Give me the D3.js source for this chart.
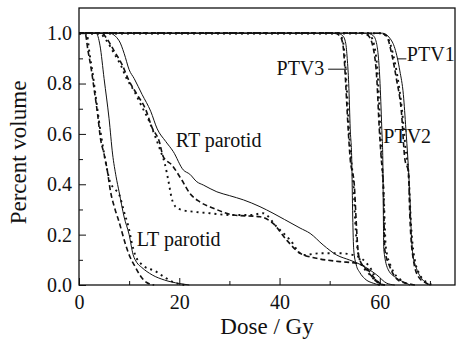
<!DOCTYPE html>
<html>
<head>
<meta charset="utf-8">
<script src="https://cdn.jsdelivr.net/npm/d3@7"></script>
<style>
  body { margin: 0; background: #fff; }
  svg text { font-family: "Liberation Serif", "Times New Roman", serif; fill: #111; }
</style>
</head>
<body>
<div id="chart"></div>
<script>
// dose (Gy), volume fraction
const ltSolid = [[0,1],[3.4,1],[4.2,0.95],[5,0.82],[6,0.66],[6.7,0.52],[7.4,0.43],[8,0.37],[9,0.27],[10,0.2],[10.8,0.12],[11.5,0.09],[12.5,0.07],[14.6,0.04],[17,0.02],[20,0.006],[22,0]];
const ltDashed = [[0,1],[1.2,1],[1.8,0.93],[2.5,0.85],[3,0.78],[3.7,0.68],[4.3,0.58],[5,0.52],[5.6,0.46],[6.3,0.37],[7.2,0.3],[8,0.25],[9.3,0.16],[10.2,0.11],[11,0.08],[12.3,0.035],[13.5,0.01],[15,0]];
const ltDotted = [[0,1],[1.5,1],[2.1,0.92],[2.8,0.83],[3.4,0.74],[4,0.65],[4.6,0.57],[5.2,0.5],[6.2,0.41],[7.2,0.38],[8,0.36],[9,0.29],[10,0.22],[10.5,0.17],[11.2,0.12],[12.6,0.08],[15.3,0.054],[17.3,0.028],[19,0.01],[21,0]];

const rtSolid = [[0,1],[6,1],[8,0.97],[9,0.92],[10,0.855],[11,0.82],[12.6,0.756],[14.3,0.69],[15.6,0.62],[17.3,0.57],[18.8,0.53],[20.8,0.457],[22.1,0.44],[23.5,0.41],[24.8,0.397],[27.5,0.37],[30,0.355],[32.8,0.338],[36.1,0.311],[38.7,0.285],[41,0.26],[44.1,0.226],[46.1,0.205],[48.7,0.159],[51.4,0.119],[54,0.099],[56.4,0.079],[59.4,0.04],[61.4,0.007],[63,0]];
const rtDashed = [[0,1],[4.5,1],[5.5,0.98],[7,0.93],[8.6,0.875],[10,0.81],[11.6,0.756],[13.3,0.697],[14.6,0.624],[16,0.571],[16.8,0.51],[18.5,0.477],[20.5,0.417],[22.1,0.364],[24.1,0.33],[26.8,0.305],[30.8,0.278],[36.1,0.271],[38.7,0.245],[41.4,0.179],[44.1,0.126],[47.4,0.106],[52,0.093],[55.4,0.086],[57.4,0.066],[58.7,0.033],[60,0.007],[61,0]];
const rtDotted = [[0,1],[4,1],[5.5,0.97],[7,0.92],[8.4,0.87],[9.5,0.82],[11,0.77],[12.5,0.71],[14,0.65],[15.2,0.59],[16.2,0.536],[17.1,0.483],[17.8,0.417],[18.5,0.344],[19.3,0.31],[20.5,0.298],[22.8,0.291],[26.1,0.285],[30.1,0.278],[34.1,0.278],[36.7,0.285],[39.4,0.232],[42.1,0.179],[44.7,0.119],[48.1,0.126],[52,0.126],[54.7,0.119],[57.4,0.086],[58.7,0.046],[59.4,0.007],[60,0]];

const ptv3Solid = [[0,1],[51.5,1],[52.6,0.99],[53.2,0.96],[53.5,0.9],[53.8,0.8],[54.1,0.62],[54.4,0.5],[54.6,0.27],[54.8,0.14],[55.3,0.08],[56,0.05],[57,0.025],[58.7,0.007],[60,0]];
const ptv3Dashed = [[0,1],[51,1],[52,0.99],[52.6,0.96],[52.9,0.9],[53.2,0.8],[53.6,0.65],[54.1,0.5],[54.9,0.4],[55.3,0.25],[55.6,0.15],[56,0.1],[57.4,0.06],[58.7,0.027],[60,0.005],[61,0]];
const ptv3Dotted = [[0,1],[51.3,1],[52.2,0.99],[52.8,0.95],[53.1,0.88],[53.5,0.75],[53.9,0.6],[54.3,0.5],[54.8,0.38],[55.1,0.25],[55.5,0.15],[56.2,0.09],[57.6,0.05],[59,0.02],[60.5,0]];

const ptv2Solid = [[0,1],[57.4,1],[58.7,0.99],[59.4,0.955],[60,0.82],[60.4,0.62],[60.6,0.5],[60.7,0.3],[60.8,0.14],[61.7,0.06],[63.4,0.027],[65.3,0.007],[66,0]];
const ptv2Dashed = [[0,1],[56.6,1],[57.7,0.99],[58.7,0.94],[59.4,0.82],[59.9,0.62],[60.3,0.5],[60.7,0.4],[61,0.14],[62,0.073],[63.9,0.016],[66,0.004],[67,0]];
const ptv2Dotted = [[0,1],[57,1],[58.1,0.99],[58.9,0.95],[59.6,0.83],[60.1,0.62],[60.4,0.5],[60.8,0.35],[61.2,0.15],[62.3,0.07],[64.2,0.02],[66,0]];

const ptv1Solid = [[0,1],[60.5,1],[62,0.98],[63,0.94],[64,0.85],[64.7,0.756],[65.2,0.62],[65.6,0.5],[66,0.35],[66.3,0.2],[66.6,0.12],[67.2,0.073],[68.3,0.027],[69.3,0.007],[70,0]];
const ptv1Dashed = [[0,1],[60,1],[61.3,0.99],[62.4,0.915],[63.3,0.82],[64.3,0.69],[65,0.5],[65.7,0.45],[66,0.27],[66.7,0.1],[67.7,0.033],[69.3,0.007],[70,0]];
const ptv1Dotted = [[0,1],[60.2,1],[61.6,0.98],[62.6,0.92],[63.5,0.83],[64.4,0.7],[65.1,0.55],[65.8,0.42],[66.2,0.25],[66.8,0.12],[68,0.04],[69.6,0.008],[70.5,0]];

const xMajor = [0, 20, 40, 60];
const xMinor = [10, 30, 50, 70];
const yMajor = [0, 0.2, 0.4, 0.6, 0.8, 1.0];
const yMinor = [0.1, 0.3, 0.5, 0.7, 0.9];

const width = 463, height = 342;
const margin = { left: 79, right: 8, top: 8, bottom: 57 };
const serif = '"Liberation Serif", "Times New Roman", serif';

const svg = d3.select('#chart').append('svg')
  .attr('width', width).attr('height', height);

const x = d3.scaleLinear().domain([0, 75]).range([margin.left, width - margin.right]);
const y = d3.scaleLinear().domain([0, 1.1]).range([height - margin.bottom, margin.top]);

// curves
const line = d3.line()
  .x(d => x(d[0]))
  .y(d => y(d[1]))
  .curve(d3.curveMonotoneX);

const series = [
  { data: ltSolid, dash: null }, { data: ltDashed, dash: '5,3' }, { data: ltDotted, dash: '2,4' },
  { data: rtSolid, dash: null }, { data: rtDashed, dash: '5,3' }, { data: rtDotted, dash: '2,4' },
  { data: ptv3Solid, dash: null }, { data: ptv3Dashed, dash: '5,3' }, { data: ptv3Dotted, dash: '2,4' },
  { data: ptv2Solid, dash: null }, { data: ptv2Dashed, dash: '5,3' }, { data: ptv2Dotted, dash: '2,4' },
  { data: ptv1Solid, dash: null }, { data: ptv1Dashed, dash: '5,3' }, { data: ptv1Dotted, dash: '2,4' },
];

svg.append('g').selectAll('path')
  .data(series)
  .enter()
  .append('path')
  .attr('d', d => line(d.data))
  .attr('fill', 'none')
  .attr('stroke', '#111')
  .attr('stroke-width', d => d.dash === '2,4' ? 1.9 : (d.dash ? 1.6 : 1))
  .attr('stroke-dasharray', d => d.dash);

// axes (ticks pointing inside)
svg.append('g')
  .attr('transform', `translate(0,${y(0)})`)
  .call(d3.axisBottom(x).tickValues(xMajor).tickSize(-7).tickPadding(10).tickFormat(d3.format('d')));
svg.append('g')
  .attr('transform', `translate(0,${y(0)})`)
  .call(d3.axisBottom(x).tickValues(xMinor).tickSize(-4).tickFormat(''));

svg.append('g')
  .attr('transform', `translate(${x(0)},0)`)
  .call(d3.axisLeft(y).tickValues(yMajor).tickSize(-7).tickPadding(7).tickFormat(d3.format('.1f')));
svg.append('g')
  .attr('transform', `translate(${x(0)},0)`)
  .call(d3.axisLeft(y).tickValues(yMinor).tickSize(-4).tickFormat(''));

svg.selectAll('.domain').remove();
svg.selectAll('g').attr('font-family', serif);
svg.selectAll('.tick line').attr('stroke', '#111').attr('stroke-width', 1);
svg.selectAll('.tick text').style('font-family', serif).style('font-size', '20px').attr('fill', '#111');

// frame
svg.append('rect')
  .attr('x', x(0)).attr('y', y(1.1))
  .attr('width', x(75) - x(0)).attr('height', y(0) - y(1.1))
  .attr('fill', 'none').attr('stroke', '#111').attr('stroke-width', 1.3);

// axis titles
svg.append('text')
  .attr('x', (x(0) + x(75)) / 2).attr('y', 334)
  .attr('text-anchor', 'middle')
  .style('font-family', serif)
  .style('font-size', '23px')
  .text('Dose / Gy');

svg.append('text')
  .attr('transform', `translate(26,${(y(0) + y(1.1)) / 2 + 6}) rotate(-90)`)
  .attr('text-anchor', 'middle')
  .style('font-family', serif)
  .style('font-size', '23px')
  .text('Percent volume');

// annotations
const notes = [
  { t: 'RT parotid', d: 19.3, v: 0.55 },
  { t: 'LT parotid', d: 11.5, v: 0.153 },
  { t: 'PTV3', d: 39.4, v: 0.835 },
  { t: 'PTV2', d: 60.7, v: 0.565 },
  { t: 'PTV1', d: 65.4, v: 0.89 },
];
svg.append('g').selectAll('text')
  .data(notes)
  .enter()
  .append('text')
  .attr('x', d => x(d.d))
  .attr('y', d => y(d.v))
  .style('font-family', serif)
  .style('font-size', '20px')
  .text(d => d.t);

// leader lines for PTV3 and PTV1
svg.append('line')
  .attr('x1', x(49.7)).attr('x2', x(53.5))
  .attr('y1', y(0.857)).attr('y2', y(0.857))
  .attr('stroke', '#111').attr('stroke-width', 1);
svg.append('line')
  .attr('x1', x(63.5)).attr('x2', x(65.3))
  .attr('y1', y(0.898)).attr('y2', y(0.898))
  .attr('stroke', '#111').attr('stroke-width', 1);
</script>
</body>
</html>
